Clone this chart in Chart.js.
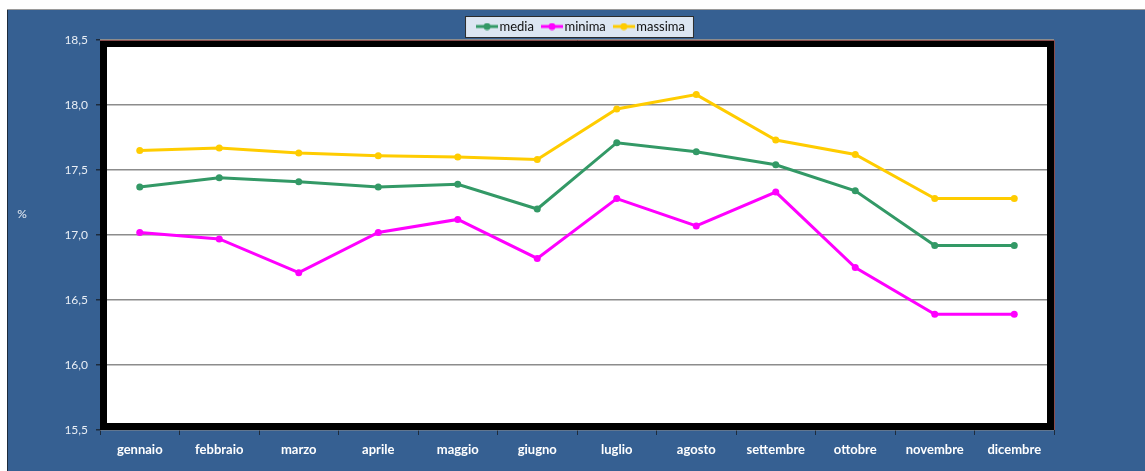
<!DOCTYPE html>
<html>
<head>
<meta charset="utf-8">
<script src="https://cdn.jsdelivr.net/npm/chart.js@4/dist/chart.umd.min.js"></script>
<style>
  html, body { margin: 0; padding: 0; background: #fff; }
  #wrap { position: relative; width: 1145px; height: 471px; }
</style>
</head>
<body>
<div id="wrap"><canvas id="tempChart"></canvas></div>
<script>
// Dati
const mesi = ['gennaio', 'febbraio', 'marzo', 'aprile', 'maggio', 'giugno', 'luglio', 'agosto', 'settembre', 'ottobre', 'novembre', 'dicembre'];
const media = [17.37, 17.44, 17.41, 17.37, 17.39, 17.20, 17.71, 17.64, 17.54, 17.34, 16.92, 16.92];
const minima = [17.02, 16.97, 16.71, 17.02, 17.12, 16.82, 17.28, 17.07, 17.33, 16.75, 16.39, 16.39];
const massima = [17.65, 17.67, 17.63, 17.61, 17.60, 17.58, 17.97, 18.08, 17.73, 17.62, 17.28, 17.28];
const yMin = 15.5, yMax = 18.5, yStep = 0.5;
const unita = '%';

const BLUE = '#366092';
const colori = { media: '#339966', minima: '#ff00ff', massima: '#ffcc00' };

// little line-with-dot marker for the legend
function marker(color) {
    const c = document.createElement('canvas');
    c.width = 22; c.height = 8;
    const g = c.getContext('2d');
    g.strokeStyle = color; g.lineWidth = 3;
    g.beginPath(); g.moveTo(0, 4); g.lineTo(22, 4); g.stroke();
    g.fillStyle = color;
    g.beginPath(); g.arc(11, 4, 3.5, 0, Math.PI * 2); g.fill();
    return c;
}
const markers = [marker(colori.media), marker(colori.minima), marker(colori.massima)];

function serie(label, values, color) {
    return {
        label: label,
        data: values,
        borderColor: color,
        backgroundColor: color,
        borderWidth: 3,
        pointRadius: 3.5,
        pointBorderWidth: 0,
        pointHoverRadius: 3.5,
        tension: 0,
        fill: false
    };
}

// background, frame, legend box, "%" label
const decor = {
    id: 'decor',
    afterLayout(chart) {
        // nudge the legend a bit to the right like the original
        chart.legend.left += 6;
        chart.legend.right += 6;
    },
    beforeDraw(chart) {
        const ctx = chart.ctx;
        const W = chart.width, H = chart.height;
        ctx.save();
        ctx.fillStyle = '#fff';
        ctx.fillRect(0, 0, W, H);
        ctx.fillStyle = BLUE;
        ctx.fillRect(8, 10, W - 8, H - 10);
        ctx.fillStyle = '#1d2b3c';
        ctx.fillRect(7, 10, 1, H - 10);
        ctx.fillStyle = '#9a9a9a';
        ctx.fillRect(7, 9, W - 7, 1);

        // legend box
        const lg = chart.legend;
        if (lg && lg.lineWidths) {
            const pad = lg.options.labels.padding;
            const x0 = (lg.left + pad + lg.right - lg.lineWidths[0]) / 2;
            const x1 = x0 + lg.lineWidths[0] - pad;
            const y0 = lg.top + pad - 4;
            ctx.fillStyle = '#dce6f2';
            ctx.fillRect(x0 - 16, y0, x1 - x0 + 25, 22);
            ctx.strokeStyle = '#2b2b2b';
            ctx.lineWidth = 1;
            ctx.strokeRect(x0 - 15.5, y0 + 0.5, x1 - x0 + 24, 21);
        }

        // plot background
        const a = chart.chartArea;
        ctx.fillStyle = '#fff';
        ctx.fillRect(a.left, a.top, a.right - a.left, a.bottom - a.top);
        ctx.restore();
    },
    beforeDatasetsDraw(chart) {
        const ctx = chart.ctx;
        const a = chart.chartArea;
        ctx.save();
        ctx.strokeStyle = '#000';
        ctx.lineWidth = 7;
        ctx.strokeRect(a.left + 3.5, a.top + 3.5, a.right - a.left - 7, a.bottom - a.top - 7);
        ctx.strokeStyle = '#8a4b4b';
        ctx.lineWidth = 1;
        ctx.beginPath();
        ctx.moveTo(a.left, a.top + 0.5);
        ctx.lineTo(a.right + 0.5, a.top + 0.5);
        ctx.lineTo(a.right + 0.5, a.bottom);
        ctx.stroke();
        ctx.restore();
    },
    afterDraw(chart) {
        const ctx = chart.ctx;
        const a = chart.chartArea;
        ctx.save();
        ctx.fillStyle = '#e9eef5';
        ctx.font = '12px Lato';
        ctx.textAlign = 'center';
        ctx.textBaseline = 'middle';
        ctx.fillText(unita, 22, a.top + (a.bottom - a.top) * 0.447);
        ctx.restore();
    }
};

const config = {
    type: 'line',
    data: {
        labels: mesi,
        datasets: [
            serie('media', media, colori.media),
            serie('minima', minima, colori.minima),
            serie('massima', massima, colori.massima)
        ]
    },
    options: {
        responsive: true,
        maintainAspectRatio: false,
        animation: false,
        events: [],
        layout: { padding: { left: 0, right: 91, top: 8, bottom: 0 } },
        plugins: {
            tooltip: { enabled: false },
            legend: {
                position: 'top',
                fullSize: false,
                maxHeight: 32,
                labels: {
                    usePointStyle: true,
                    pointStyleWidth: 12,
                    padding: 12,
                    color: '#111',
                    font: { family: 'Lato', size: 13 },
                    generateLabels(chart) {
                        const items = Chart.defaults.plugins.legend.labels.generateLabels(chart);
                        items.forEach((it, i) => { it.pointStyle = markers[i]; it.lineWidth = 0; });
                        return items;
                    }
                }
            }
        },
        scales: {
            x: {
                offset: true,
                border: { display: false },
                grid: {
                    offset: true,
                    drawOnChartArea: false,
                    tickLength: 5,
                    tickColor: '#1d2b3c'
                },
                ticks: {
                    color: '#ffffff',
                    padding: 7,
                    maxRotation: 0,
                    font: { family: 'Lato', size: 13, weight: 'bold' }
                },
                afterFit(s) { s.height = 41; }
            },
            y: {
                min: yMin,
                max: yMax,
                border: { display: false },
                grid: {
                    color: '#8c8c8c',
                    lineWidth: 1.5,
                    tickLength: 4,
                    tickColor: '#1d2b3c'
                },
                ticks: {
                    stepSize: yStep,
                    padding: 8,
                    color: '#e9eef5',
                    font: { family: 'Lato', size: 12 },
                    callback: v => v.toFixed(1).replace('.', ',')
                },
                afterFit(s) { s.width = 100; }
            }
        }
    },
    plugins: [decor]
};

const ctx = document.getElementById('tempChart').getContext('2d');
const tempChart = new Chart(ctx, config);
</script>
</body>
</html>
